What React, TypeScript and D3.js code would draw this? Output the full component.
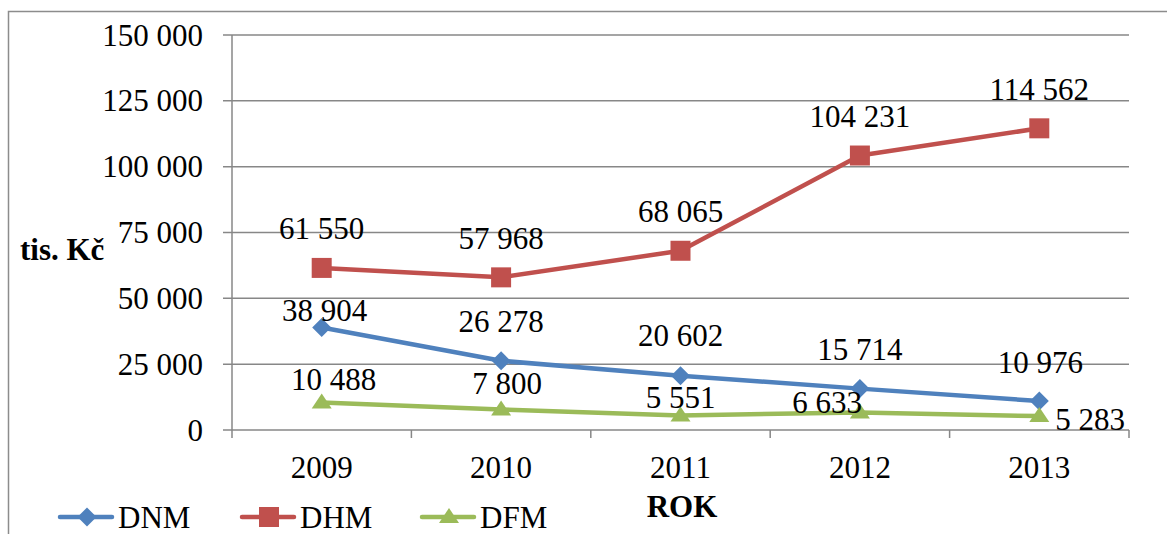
import React from "react";
import * as d3 from "d3";

const years = ["2009", "2010", "2011", "2012", "2013"];
const dnm = [38904, 26278, 20602, 15714, 10976];
const dhm = [61550, 57968, 68065, 104231, 114562];
const dfm = [10488, 7800, 5551, 6633, 5283];
const yTicks = [0, 25000, 50000, 75000, 100000, 125000, 150000];

// label placement per point: [dx, dy(baseline relative to point), anchor]
type Place = [number, number, "start" | "middle" | "end"];
const dnmPlace: Place[] = [[3, -6.5, "middle"], [0, -29, "middle"], [0, -30, "middle"], [0, -29, "middle"], [1, -28, "middle"]];
const dhmPlace: Place[] = [[0, -29, "middle"], [0, -28, "middle"], [0, -29, "middle"], [0, -29, "middle"], [0, -28, "middle"]];
const dfmPlace: Place[] = [[12, -12, "middle"], [6, -15.5, "middle"], [0, -7.5, "middle"], [2, 0, "end"], [16, 14, "start"]];

const W = 1167;
const H = 534;
const left = 232;
const right = 1129;
const top = 35;
const bottom = 430;
const font = "Liberation Serif, Times New Roman, DejaVu Serif, serif";
const FS = 31;
const fmt = (v: number) => d3.format(",")(v).replace(/,/g, " ");

export default function App() {
  const x = d3.scaleBand<string>().domain(years).range([left, right]);
  const y = d3.scaleLinear().domain([0, 150000]).range([bottom, top]);
  const cx = (i: number) => (x(years[i]) as number) + x.bandwidth() / 2;
  const line = d3
    .line<number>()
    .x((_, i) => cx(i))
    .y((d) => y(d));

  const series = [
    { name: "DNM", values: dnm, color: "#4F81BD", shape: "diamond", place: dnmPlace },
    { name: "DHM", values: dhm, color: "#C0504D", shape: "square", place: dhmPlace },
    { name: "DFM", values: dfm, color: "#9BBB59", shape: "triangle", place: dfmPlace },
  ];

  const marker = (shape: string, px: number, py: number, color: string, key?: string) => {
    if (shape === "diamond") {
      const r = 9.5;
      return <path key={key} d={`M${px},${py - r}L${px + r},${py}L${px},${py + r}L${px - r},${py}Z`} fill={color} />;
    }
    if (shape === "square") {
      const r = 10;
      return <rect key={key} x={px - r} y={py - r} width={2 * r} height={2 * r} fill={color} />;
    }
    const w = 10, h = 15;
    return <path key={key} d={`M${px},${py - h * 0.6}L${px + w},${py + h * 0.4}L${px - w},${py + h * 0.4}Z`} fill={color} />;
  };

  const legendX = [60, 242, 422];
  const ts = { fontFamily: font };

  return (
    <svg width={W} height={H} style={{ position: "absolute", left: 0, top: 0, background: "#fff", fontFamily: font }}>
      <rect x={8.5} y={11.5} width={W + 20} height={H + 20} fill="none" stroke="#8c8c8c" strokeWidth={1.5} />
      {/* gridlines + y ticks */}
      {yTicks.map((t) => (
        <g key={t}>
          <line x1={223} x2={right} y1={y(t)} y2={y(t)} stroke="#878787" strokeWidth={1.5} />
          <text x={203} y={y(t) + 10.5} textAnchor="end" fontSize={FS} fill="#000" style={ts}>
            {fmt(t)}
          </text>
        </g>
      ))}
      <line x1={left} x2={left} y1={top} y2={438} stroke="#878787" strokeWidth={1.5} />
      {years.map((yr, i) => (
        <g key={yr}>
          <line x1={(x(yr) as number) + x.bandwidth()} x2={(x(yr) as number) + x.bandwidth()} y1={bottom} y2={438} stroke="#878787" strokeWidth={1.5} />
          <text x={cx(i)} y={478} textAnchor="middle" fontSize={FS} style={ts}>
            {yr}
          </text>
        </g>
      ))}
      {series.map((s) => (
        <g key={s.name}>
          <path d={line(s.values) || ""} fill="none" stroke={s.color} strokeWidth={4.5} strokeLinejoin="round" strokeLinecap="round" />
          {s.values.map((v, i) => marker(s.shape, cx(i), y(v), s.color, s.name + i))}
        </g>
      ))}
      {series.map((s) =>
        s.values.map((v, i) => (
          <text key={s.name + "l" + i} x={cx(i) + s.place[i][0]} y={y(v) + s.place[i][1]} textAnchor={s.place[i][2]} fontSize={FS} style={ts}>
            {fmt(v)}
          </text>
        ))
      )}
      <text x={20} y={260} fontSize={FS} fontWeight="bold" style={ts}>
        tis. Kč
      </text>
      <text x={682} y={517} fontSize={FS} fontWeight="bold" textAnchor="middle" style={ts}>
        ROK
      </text>
      {series.map((s, k) => (
        <g key={s.name + "leg"}>
          <line x1={legendX[k]} x2={legendX[k] + 52} y1={517} y2={517} stroke={s.color} strokeWidth={4.5} strokeLinecap="round" />
          {marker(s.shape, legendX[k] + 27, 517, s.color)}
          <text x={legendX[k] + 58} y={528} fontSize={FS} style={ts}>
            {s.name}
          </text>
        </g>
      ))}
    </svg>
  );
}
